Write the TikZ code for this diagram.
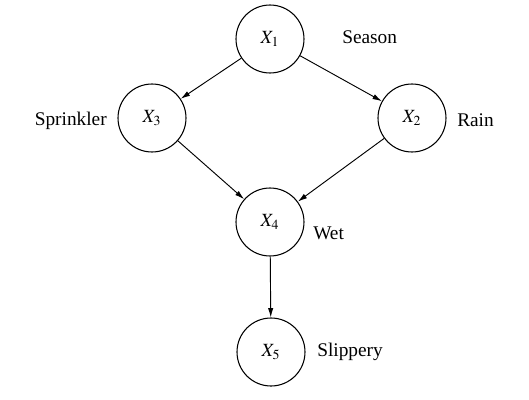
\documentclass[tikz,border=0pt]{standalone}
\usepackage{mathptmx}
\usepackage{fontspec}
\setmainfont{Liberation Serif}
\usepackage{tikz}
\usetikzlibrary{positioning,arrows.meta}

\begin{document}
\begin{tikzpicture}[
      x=0.75pt, y=-0.75pt,
      var/.style={circle, draw, line width=0.8pt, minimum size=51pt, inner sep=0pt,
        font=\fontsize{14}{16}\selectfont},
      lbl/.style={font=\fontsize{14.5}{17}\selectfont, inner sep=0pt},
      arr/.style={-{Latex[length=7pt,width=4pt]}, line width=0.7pt}
    ]
      \useasboundingbox (0,0) rectangle (529,400);
      \node[var] (x1) at (270,39)  {$X_1$};
      \node[var] (x3) at (152,118) {$X_3$};
      \node[var] (x2) at (412,118) {$X_2$};
      \node[var] (x4) at (270,222) {$X_4$};
      \node[var] (x5) at (271,352) {$X_5$};
      \node[lbl, anchor=west] (season)    at (342,37)  {Season};
      \node[lbl, anchor=east] (sprinkler) at (107,121) {Sprinkler};
      \node[lbl, anchor=west] (rain)      at (457,120) {Rain};
      \node[lbl, anchor=west] (wet)       at (313,233) {Wet};
      \node[lbl, anchor=west] (slippery)  at (317,352) {Slippery};
      \draw[arr] (x1)--(x3); \draw[arr] (x1)--(x2);
      \draw[arr] (x3)--(x4); \draw[arr] (x2)--(x4); \draw[arr] (x4)--(x5);
    \end{tikzpicture}
\end{document}
